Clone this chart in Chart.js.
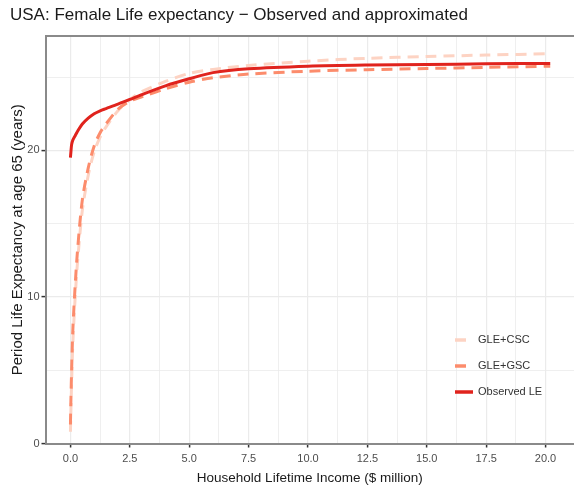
<!DOCTYPE html>
<html>
<head>
<meta charset="utf-8">
<script src="https://cdn.jsdelivr.net/npm/chart.js@4.4.0/dist/chart.umd.min.js"></script>
<style>
html,body{margin:0;padding:0;background:#fff;}
#wrap{width:574px;height:490px;position:relative;}
</style>
</head>
<body>
<div id="wrap"><canvas id="c" width="574" height="490"></canvas></div>
<script>
// ---- data ----
const titleText = "USA: Female Life expectancy \u2212 Observed and approximated";
const xTitle = "Household Lifetime Income ($ million)";
const yTitle = "Period Life Expectancy at age 65 (years)";
const seriesNames = ["GLE+CSC", "GLE+GSC", "Observed LE"];
const income = [0, 0.02, 0.05, 0.1, 0.2, 0.3, 0.5, 0.75, 1, 1.25, 1.5, 2, 2.5, 3, 4, 5, 6, 7.5, 10, 12.5, 15, 17.5, 20.2];
const gleCSC = [0.8, 2.3, 4.2, 6.8, 10.0, 12.4, 15.9, 18.3, 19.9, 20.9, 21.6, 22.7, 23.45, 24.0, 24.7, 25.25, 25.52, 25.79, 26.08, 26.28, 26.4, 26.5, 26.59];
const gleGSC = [1.3, 3.0, 5.0, 7.7, 10.8, 13.2, 16.6, 18.8, 20.3, 21.2, 21.8, 22.8, 23.35, 23.65, 24.2, 24.65, 24.95, 25.2, 25.4, 25.5, 25.58, 25.66, 25.74];
const observedLE = [19.5, 19.9, 20.4, 20.7, 21.0, 21.3, 21.8, 22.2, 22.5, 22.7, 22.85, 23.15, 23.47, 23.8, 24.4, 24.88, 25.3, 25.56, 25.74, 25.82, 25.86, 25.9, 25.93];
const xTicks = [0, 1.25, 2.5, 3.75, 5, 6.25, 7.5, 8.75, 10, 11.25, 12.5, 13.75, 15, 16.25, 17.5, 18.75, 20];
const xLabelTicks = [0, 2.5, 5, 7.5, 10, 12.5, 15, 17.5, 20];
const yTicks = [0, 5, 10, 15, 20, 25];
const yLabelTicks = [0, 10, 20];

const colors = ["#fdd3c3", "#fc8c6c", "#e0231d"];
const toPts = (ys) => income.map((x, i) => ({x: x, y: ys[i]}));
const font = "'Liberation Sans', Arial, sans-serif";

const legendPlugin = {
  id: 'insideLegend',
  afterDraw(chart) {
    const ctx = chart.ctx;
    const keyX = 455, textX = 478, rowY = [340, 366, 392];
    ctx.save();
    chart.data.datasets.forEach((ds, i) => {
      ctx.beginPath();
      ctx.strokeStyle = ds.borderColor;
      ctx.lineWidth = 3.5;
      ctx.setLineDash(ds.borderDash || []);
      ctx.moveTo(keyX, rowY[i]);
      ctx.lineTo(keyX + 18, rowY[i]);
      ctx.stroke();
      ctx.setLineDash([]);
      ctx.fillStyle = '#333';
      ctx.font = "11px " + font;
      ctx.textBaseline = 'middle';
      ctx.fillText(ds.label, textX, rowY[i]);
    });
    ctx.restore();
  }
};
const borderPlugin = {
  id: 'panelBorder',
  beforeDatasetsDraw(chart) {
    const a = chart.chartArea, ctx = chart.ctx;
    ctx.save();
    ctx.strokeStyle = '#8a8a8a';
    ctx.lineWidth = 2;
    ctx.beginPath();
    ctx.moveTo(a.left, a.top);
    ctx.lineTo(a.right, a.top);
    ctx.stroke();
    ctx.restore();
  }
};

new Chart(document.getElementById('c'), {
  type: 'line',
  data: {
    datasets: [
      {label: seriesNames[0], data: toPts(gleCSC), borderColor: colors[0], borderWidth: 3, borderDash: [11, 7], pointRadius: 0, tension: 0.3, order: 2, fill: false},
      {label: seriesNames[1], data: toPts(gleGSC), borderColor: colors[1], borderWidth: 3, borderDash: [11, 7], pointRadius: 0, tension: 0.3, order: 1, fill: false},
      {label: seriesNames[2], data: toPts(observedLE), borderColor: colors[2], borderWidth: 3, pointRadius: 0, tension: 0.3, order: 0, fill: false}
    ]
  },
  options: {
    responsive: false,
    animation: false,
    layout: {padding: {left: 10, right: 0, top: 0, bottom: 0}},
    plugins: {
      legend: {display: false},
      tooltip: {enabled: false},
      title: {
        display: true, text: titleText, align: 'start', color: '#1a1a1a',
        font: {family: font, size: 17, weight: 'normal'},
        padding: {top: 5, bottom: 10.6}
      }
    },
    scales: {
      x: {
        type: 'linear', min: -1.05, max: 21.2,
        afterBuildTicks: (s) => { s.ticks = xTicks.map(v => ({value: v})); },
        afterFit: (s) => { s.height = 46.5; },
        ticks: {
          autoSkip: false, maxRotation: 0, padding: 5, color: '#4d4d4d',
          font: {family: font, size: 11},
          callback: (v) => xLabelTicks.includes(v) ? v.toFixed(1) : ''
        },
        grid: {
          color: '#ebebeb',
          lineWidth: (c) => (c.tick && xLabelTicks.includes(c.tick.value)) ? 1.2 : 0.8,
          tickLength: 4,
          tickColor: (c) => (c.tick && xLabelTicks.includes(c.tick.value)) ? '#333' : 'rgba(0,0,0,0)',
          tickWidth: 1.5
        },
        border: {display: true, color: '#8a8a8a', width: 2},
        title: {display: true, text: xTitle, color: '#1a1a1a', font: {family: font, size: 13.5}, padding: {top: 4, bottom: 4}}
      },
      y: {
        type: 'linear', min: 0, max: 27.8,
        afterBuildTicks: (s) => { s.ticks = yTicks.map(v => ({value: v})); },
        afterFit: (s) => { s.width = 35.5; },
        ticks: {
          autoSkip: false, padding: 2, color: '#4d4d4d',
          font: {family: font, size: 11},
          callback: (v) => yLabelTicks.includes(v) ? String(v) : ''
        },
        grid: {
          color: '#ebebeb',
          lineWidth: (c) => (c.tick && yLabelTicks.includes(c.tick.value)) ? 1.2 : 0.8,
          tickLength: 4,
          tickColor: (c) => (c.tick && yLabelTicks.includes(c.tick.value)) ? '#333' : 'rgba(0,0,0,0)',
          tickWidth: 1.5
        },
        border: {display: true, color: '#8a8a8a', width: 2},
        title: {display: true, text: yTitle, color: '#1a1a1a', font: {family: font, size: 15, lineHeight: 1}, padding: {top: 0, bottom: 0}}
      }
    }
  },
  plugins: [legendPlugin, borderPlugin]
});
</script>
</body>
</html>
